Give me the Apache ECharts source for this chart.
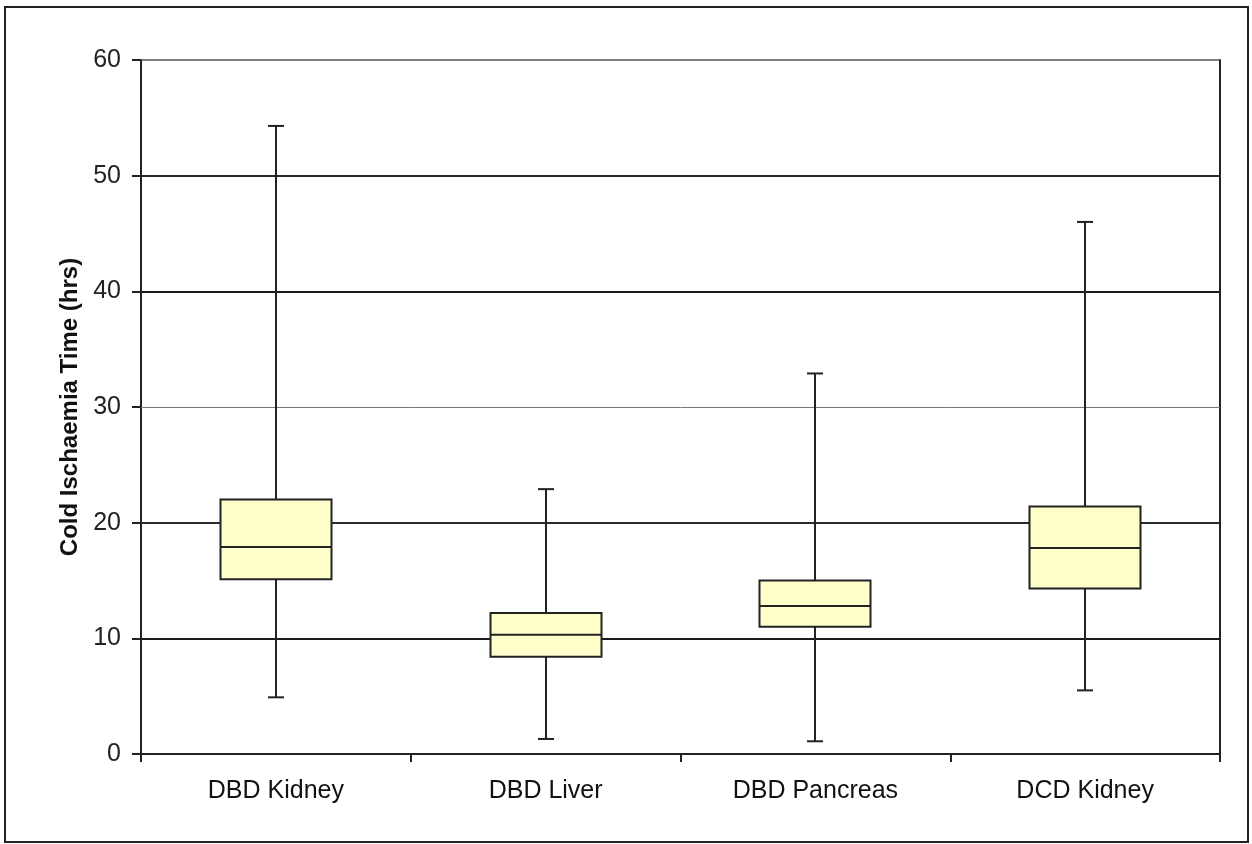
<!DOCTYPE html>
<html>
<head>
<meta charset="utf-8">
<script src="https://cdn.jsdelivr.net/npm/echarts@6/dist/echarts.min.js"></script>
<style>
html,body{margin:0;padding:0;background:#fff;}
#chart{width:1252px;height:844px;}
</style>
</head>
<body>
<div id="chart"></div>
<script>
const categories = ['DBD Kidney', 'DBD Liver', 'DBD Pancreas', 'DCD Kidney'];
const whiskerLow = [4.9, 1.3, 1.1, 5.5];
const q1 = [15.1, 8.4, 11.0, 14.3];
const median = [17.9, 10.3, 12.8, 17.8];
const q3 = [22.0, 12.2, 15.0, 21.4];
const whiskerHigh = [54.3, 22.9, 32.9, 46.0];
const yTicks = [0, 10, 20, 30, 40, 50, 60];
const yTitle = 'Cold Ischaemia Time (hrs)';

const FONT = '"Liberation Sans", Arial, sans-serif';
const data = categories.map((c, i) => [i, whiskerLow[i], q1[i], median[i], q3[i], whiskerHigh[i]]);

const gridStyles = {
  10: {color: '#1a1a1a', width: 2},
  20: {color: '#2a2a2a', width: 2},
  30: {color: '#777', width: 1},
  40: {color: '#1a1a1a', width: 2},
  50: {color: '#2a2a2a', width: 2},
  60: {color: '#555', width: 1.5}
};

const chart = echarts.init(document.getElementById('chart'));
chart.setOption({
  backgroundColor: '#fff',
  animation: false,
  grid: {left: 141, right: 32, top: 60, bottom: 90, containLabel: false},
  xAxis: {
    type: 'category',
    data: categories,
    boundaryGap: true,
    axisLine: {show: true, lineStyle: {color: '#222', width: 2}},
    axisTick: {show: true, length: 8, alignWithLabel: false, lineStyle: {color: '#222', width: 2}},
    axisLabel: {color: '#111', fontFamily: FONT, fontSize: 25, margin: 25},
    splitLine: {show: false}
  },
  yAxis: [{
    type: 'value',
    min: yTicks[0],
    max: yTicks[yTicks.length - 1],
    interval: 10,
    name: yTitle,
    nameLocation: 'middle',
    nameGap: 58,
    nameRotate: 90,
    nameTextStyle: {color: '#111', fontFamily: FONT, fontSize: 24, fontWeight: 'bold'},
    axisLine: {show: true, lineStyle: {color: '#222', width: 2}},
    axisTick: {show: true, length: 9, lineStyle: {color: '#222', width: 2}},
    axisLabel: {color: '#222', fontFamily: FONT, fontSize: 25, margin: 20},
    splitLine: {show: false}
  }, {
    type: 'value',
    position: 'right',
    min: yTicks[0],
    max: yTicks[yTicks.length - 1],
    interval: 10,
    axisLine: {show: true, lineStyle: {color: '#222', width: 2}},
    axisTick: {show: false},
    axisLabel: {show: false},
    splitLine: {show: false}
  }],
  graphic: [{
    type: 'rect',
    silent: true,
    shape: {x: 5, y: 7, width: 1243, height: 835},
    style: {fill: 'none', stroke: '#222', lineWidth: 2}
  }],
  series: [{
    type: 'custom',
    data: data,
    encode: {x: 0, y: [1, 2, 3, 4, 5]},
    z: 5,
    markLine: {
      silent: true,
      symbol: 'none',
      label: {show: false},
      z: 1,
      data: yTicks.filter(v => v > 0).map(v => ({yAxis: v, lineStyle: {type: 'solid', color: gridStyles[v].color, width: gridStyles[v].width}}))
    },
    renderItem: function (params, api) {
      const x = api.value(0);
      const lo = api.coord([x, api.value(1)]);
      const p1 = api.coord([x, api.value(2)]);
      const md = api.coord([x, api.value(3)]);
      const p3 = api.coord([x, api.value(4)]);
      const hi = api.coord([x, api.value(5)]);
      const bw = Math.round(api.size([1, 0])[0] * 0.41);
      const cx = Math.round(lo[0]);
      const cap = 8;
      const ls = {stroke: '#222', lineWidth: 2, fill: 'none'};
      const left = cx - bw / 2;
      return {
        type: 'group',
        children: [
          {type: 'line', shape: {x1: cx, y1: hi[1], x2: cx, y2: p3[1]}, style: ls},
          {type: 'line', shape: {x1: cx, y1: p1[1], x2: cx, y2: lo[1]}, style: ls},
          {type: 'line', shape: {x1: cx - cap, y1: hi[1], x2: cx + cap, y2: hi[1]}, style: ls},
          {type: 'line', shape: {x1: cx - cap, y1: lo[1], x2: cx + cap, y2: lo[1]}, style: ls},
          {type: 'rect', shape: {x: left, y: p3[1], width: bw, height: p1[1] - p3[1]}, style: {fill: '#FFFFCC', stroke: '#222', lineWidth: 2}},
          {type: 'line', shape: {x1: left, y1: md[1], x2: left + bw, y2: md[1]}, style: ls}
        ]
      };
    }
  }]
});
</script>
</body>
</html>
